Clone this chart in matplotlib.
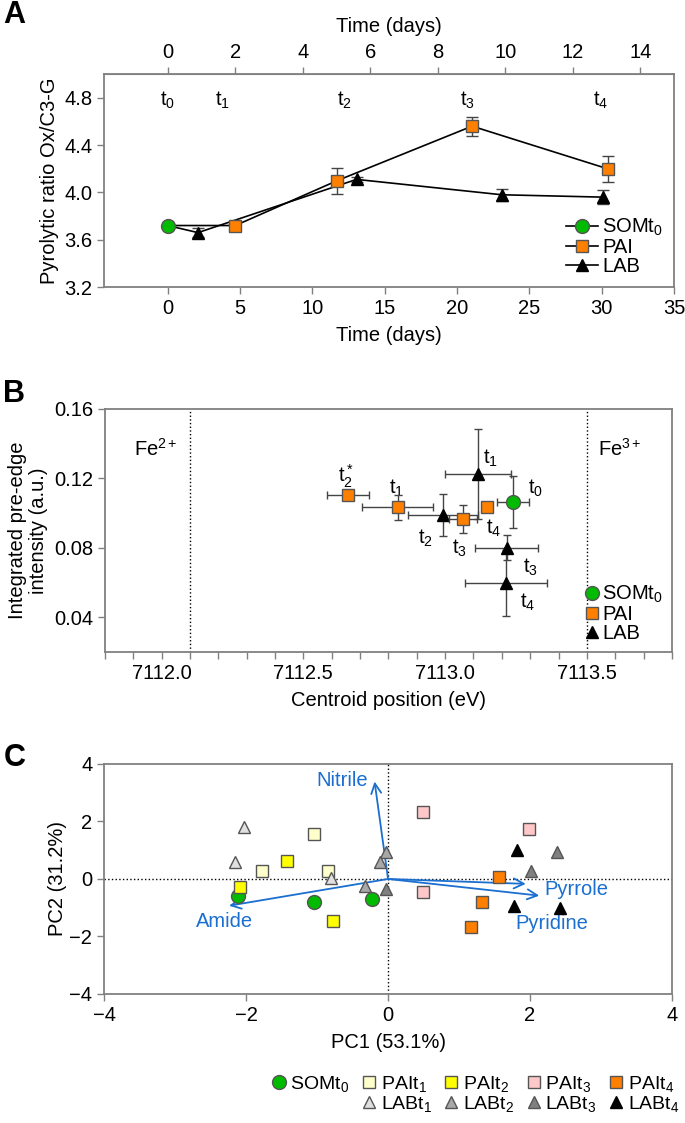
import numpy as np
import matplotlib
matplotlib.use("Agg")
import matplotlib.pyplot as plt
from matplotlib.lines import Line2D
from matplotlib.ticker import MultipleLocator, FormatStrFormatter

plt.rcParams['font.family'] = ['Liberation Sans', 'DejaVu Sans']
plt.rcParams['mathtext.fontset'] = 'custom'
plt.rcParams['mathtext.rm'] = 'Liberation Sans'
plt.rcParams['mathtext.it'] = 'Liberation Sans'
plt.rcParams['font.size'] = 14

FS = 14.5

# ---- panel A: pyrolytic ratio over time ----
som_a_x = [0.0]
som_a_y = [3.72]
som_a_err = [0.02]
pai_a_x = [4.67, 11.72, 21.04, 30.4]
pai_a_y = [3.72, 4.10, 4.56, 4.20]
pai_a_err = [0.03, 0.11, 0.08, 0.11]
lab_a_x = [2.09, 13.05, 23.1, 30.1]
lab_a_y = [3.66, 4.11, 3.98, 3.96]
lab_a_err = [0.04, 0.02, 0.05, 0.06]
tlabels_a = ["t$_0$", "t$_1$", "t$_2$", "t$_3$", "t$_4$"]
tlabels_a_x = [0.0, 3.8, 12.2, 20.7, 29.9]

# ---- panel B: Fe XANES pre-edge ----
som_b_x = [7113.24]
som_b_y = [0.1065]
som_b_xerr = [0.056]
som_b_yerr = [0.0148]
pai_b_x = [7112.658, 7112.833, 7113.062, 7113.148]
pai_b_y = [0.1104, 0.1033, 0.0965, 0.1033]
pai_b_xerr = [0.075, 0.126, 0.05, 0.0]
pai_b_yerr = [0.002, 0.0072, 0.008, 0.0]
lab_b_x = [7113.116, 7112.992, 7113.217, 7113.214]
lab_b_y = [0.1225, 0.0988, 0.0802, 0.060]
lab_b_xerr = [0.117, 0.124, 0.11, 0.144]
lab_b_yerr = [0.026, 0.012, 0.007, 0.019]
blabels = ["t$_2^*$", "t$_1$", "t$_3$", "t$_4$", "t$_1$", "t$_2$", "t$_3$", "t$_4$", "t$_0$"]
blabels_x = [7112.65, 7112.83, 7113.05, 7113.17, 7113.16, 7112.93, 7113.30, 7113.29, 7113.32]
blabels_y = [0.1215, 0.1145, 0.080, 0.0912, 0.1315, 0.0854, 0.069, 0.0488, 0.1142]

# ---- panel C: PCA ----
pca_groups = ["SOMt$_0$", "PAIt$_1$", "PAIt$_2$", "PAIt$_3$", "PAIt$_4$",
              "LABt$_1$", "LABt$_2$", "LABt$_3$", "LABt$_4$"]
pca_x = [[-2.11, -1.05, -0.23],
         [-1.77, -1.04, -0.85],
         [-1.42, -2.08, -0.77],
         [0.49, 1.98, 0.49],
         [1.57, 1.33, 1.17],
         [-2.03, -2.16, -0.80],
         [-0.03, -0.12, -0.32],
         [-0.03, 2.38, 2.02],
         [1.81, 1.78, 2.42]]
pca_y = [[-0.58, -0.81, -0.70],
         [0.29, 1.57, 0.29],
         [0.61, -0.27, -1.46],
         [2.34, 1.73, -0.46],
         [0.08, -0.81, -1.67],
         [1.80, 0.60, 0.02],
         [0.93, 0.60, -0.23],
         [-0.35, 0.93, 0.26],
         [1.01, -0.93, -1.00]]
pca_colors = ["#00bb00", "#ffffcc", "#ffff00", "#ffc8c8", "#ff7f00",
              "#e0e0e0", "#a8a8a8", "#808080", "#000000"]
pca_markers = ["o", "s", "s", "s", "s", "^", "^", "^", "^"]
loadings = ["Nitrile", "Amide", "Pyrrole", "Pyridine"]
load_x = [-0.19, -2.24, 1.94, 2.13]
load_y = [3.39, -0.93, -0.17, -0.58]
load_lab_x = [-0.65, -2.31, 2.65, 2.31]
load_lab_y = [3.44, -1.48, -0.36, -1.54]

green = "#00bb00"
orange = "#ff8000"
blue = "#1a6fd0"
spine_gray = "#808080"

fig = plt.figure(figsize=(6.85, 11.23), dpi=100)


def style_box(ax):
    for s in ax.spines.values():
        s.set_color(spine_gray)
        s.set_linewidth(1.3)
    ax.tick_params(direction='out', color=spine_gray, width=1, length=5, labelsize=FS)


# ===== A =====
axA = fig.add_axes([0.152, 0.7444, 0.832, 0.1896])
style_box(axA)
axA.errorbar(np.r_[som_a_x, lab_a_x], np.r_[som_a_y, lab_a_y], yerr=np.r_[som_a_err, lab_a_err],
             color='black', lw=1.2, marker='^', ms=9, mfc='black', mec='black',
             ecolor='#444444', elinewidth=1, capsize=4, markevery=[1, 2, 3, 4], zorder=3)
axA.errorbar(np.r_[som_a_x, pai_a_x], np.r_[som_a_y, pai_a_y], yerr=np.r_[som_a_err, pai_a_err],
             color='black', lw=1.2, marker='s', ms=9, mfc=orange, mec='#555555',
             ecolor='#444444', elinewidth=1, capsize=4, markevery=[1, 2, 3, 4], zorder=4)
axA.errorbar(som_a_x, som_a_y, yerr=som_a_err, color='black', lw=1.2, marker='o', ms=10,
             mfc=green, mec='#555555', ecolor='#444444', capsize=4, zorder=5)
for lab, x in zip(tlabels_a, tlabels_a_x):
    axA.text(x, 4.78, lab, ha='center', va='center', fontsize=FS)
axA.set_xlim(-4.4, 35)
axA.set_ylim(3.2, 5.0)
axA.set_xticks(np.arange(0, 36, 5))
axA.set_yticks(np.arange(3.2, 4.81, 0.4))
axA.yaxis.set_major_formatter(FormatStrFormatter('%.1f'))
axA.set_xlabel("Time (days)", fontsize=FS, labelpad=6)
axA.set_ylabel("Pyrolytic ratio Ox/C3-G", fontsize=FS, labelpad=4)
top = axA.secondary_xaxis('top', functions=(lambda x: x * 3 / 7, lambda x: x * 7 / 3))
top.set_xticks(np.arange(0, 15, 2))
top.tick_params(direction='out', color=spine_gray, width=1, length=5, labelsize=FS)
top.spines['top'].set_color(spine_gray)
top.set_xlabel("Time (days)", fontsize=FS, labelpad=8)
legA = [Line2D([], [], color='black', lw=1.2, marker='o', ms=10, mfc=green, mec='#555555'),
        Line2D([], [], color='black', lw=1.2, marker='s', ms=9, mfc=orange, mec='#555555'),
        Line2D([], [], color='black', lw=1.2, marker='^', ms=9, mfc='black', mec='black')]
axA.legend(legA, ["SOMt$_0$", "PAI", "LAB"], loc='lower right', frameon=False,
           handlelength=1.6, handletextpad=0.2, labelspacing=0.0, borderaxespad=0.15, fontsize=FS)
fig.text(0.005, 0.987, "A", fontsize=22, fontweight='bold', va='center')

# ===== B =====
axB = fig.add_axes([0.153, 0.4194, 0.828, 0.2164])
style_box(axB)
axB.axvline(7112.1, color='black', ls=':', lw=1)
axB.axvline(7113.5, color='black', ls=':', lw=1)
axB.errorbar(lab_b_x, lab_b_y, xerr=lab_b_xerr, yerr=lab_b_yerr, fmt='^', ms=9, mfc='black',
             mec='black', ecolor='#444444', elinewidth=1, capsize=3, zorder=3)
axB.errorbar(pai_b_x, pai_b_y, xerr=pai_b_xerr, yerr=pai_b_yerr, fmt='s', ms=9, mfc=orange,
             mec='#555555', ecolor='#444444', elinewidth=1, capsize=3, zorder=4)
axB.errorbar(som_b_x, som_b_y, xerr=som_b_xerr, yerr=som_b_yerr, fmt='o', ms=10, mfc=green,
             mec='#555555', ecolor='#444444', elinewidth=1, capsize=3, zorder=5)
for lab, x, y in zip(blabels, blabels_x, blabels_y):
    axB.text(x, y, lab, ha='center', va='center', fontsize=FS)
axB.text(7111.98, 0.137, "Fe$^{2+}$", ha='center', va='center', fontsize=FS)
axB.text(7113.54, 0.137, "Fe$^{3+}$", ha='left', va='center', fontsize=FS)
axB.set_xlim(7111.8, 7113.8)
axB.set_ylim(0.02, 0.16)
axB.set_xticks([7112.0, 7112.5, 7113.0, 7113.5])
axB.xaxis.set_minor_locator(MultipleLocator(0.1))
axB.tick_params(which='minor', direction='out', color=spine_gray, width=1, length=5)
axB.xaxis.set_major_formatter(FormatStrFormatter('%.1f'))
axB.set_yticks([0.04, 0.08, 0.12, 0.16])
axB.yaxis.set_major_formatter(FormatStrFormatter('%.2f'))
axB.set_xlabel("Centroid position (eV)", fontsize=FS, labelpad=6)
axB.set_ylabel("Integrated pre-edge\nintensity (a.u.)", fontsize=FS, labelpad=4, linespacing=1.15)
legB = [Line2D([], [], ls='none', marker='o', ms=10, mfc=green, mec='#555555'),
        Line2D([], [], ls='none', marker='s', ms=9, mfc=orange, mec='#555555'),
        Line2D([], [], ls='none', marker='^', ms=9, mfc='black', mec='black')]
axB.legend(legB, ["SOMt$_0$", "PAI", "LAB"], loc='lower right', frameon=False,
           handlelength=0.8, handletextpad=0.1, labelspacing=0.0, borderaxespad=0.05, fontsize=FS)
fig.text(0.005, 0.649, "B", fontsize=22, fontweight='bold', va='center')

# ===== C =====
axC = fig.add_axes([0.152, 0.1149, 0.829, 0.2048])
style_box(axC)
axC.axvline(0, color='black', ls=':', lw=1)
axC.axhline(0, color='black', ls=':', lw=1)
for lx, ly in zip(load_x, load_y):
    axC.annotate('', xy=(lx, ly), xytext=(0, 0),
                 arrowprops=dict(arrowstyle='->', color=blue, lw=1.3, mutation_scale=18,
                                 shrinkA=0, shrinkB=0))
for name, tx, ty in zip(loadings, load_lab_x, load_lab_y):
    axC.text(tx, ty, name, color=blue, ha='center', va='center', fontsize=FS)
handles = []
for g, xs, ys, c, m in zip(pca_groups, pca_x, pca_y, pca_colors, pca_markers):
    ms = 10 if m == 'o' else 9
    ec = '#555555' if c != '#000000' else 'black'
    h, = axC.plot(xs, ys, ls='none', marker=m, ms=ms, mfc=c, mec=ec, mew=1, zorder=4)
    handles.append(h)
axC.set_xlim(-4, 4)
axC.set_ylim(-4, 4)
axC.set_xticks([-4, -2, 0, 2, 4])
axC.set_yticks([-4, -2, 0, 2, 4])
axC.set_xlabel("PC1 (53.1%)", fontsize=FS, labelpad=6)
axC.set_ylabel("PC2 (31.2%)", fontsize=FS, labelpad=2)
fig.text(0.005, 0.325, "C", fontsize=22, fontweight='bold', va='center')

blank = Line2D([], [], ls='none')
order = [handles[0], blank, handles[1], handles[5], handles[2], handles[6],
         handles[3], handles[7], handles[4], handles[8]]
labels = [pca_groups[0], "", pca_groups[1], pca_groups[5], pca_groups[2], pca_groups[6],
          pca_groups[3], pca_groups[7], pca_groups[4], pca_groups[8]]
fig.legend(order, labels, ncol=5, loc='center right', bbox_to_anchor=(0.995, 0.026), frameon=False,
           handlelength=0.8, handletextpad=0.2, columnspacing=0.6, labelspacing=0.0, fontsize=14,
           borderaxespad=0.0, borderpad=0.1)

fig.savefig("out.png", dpi=100)
